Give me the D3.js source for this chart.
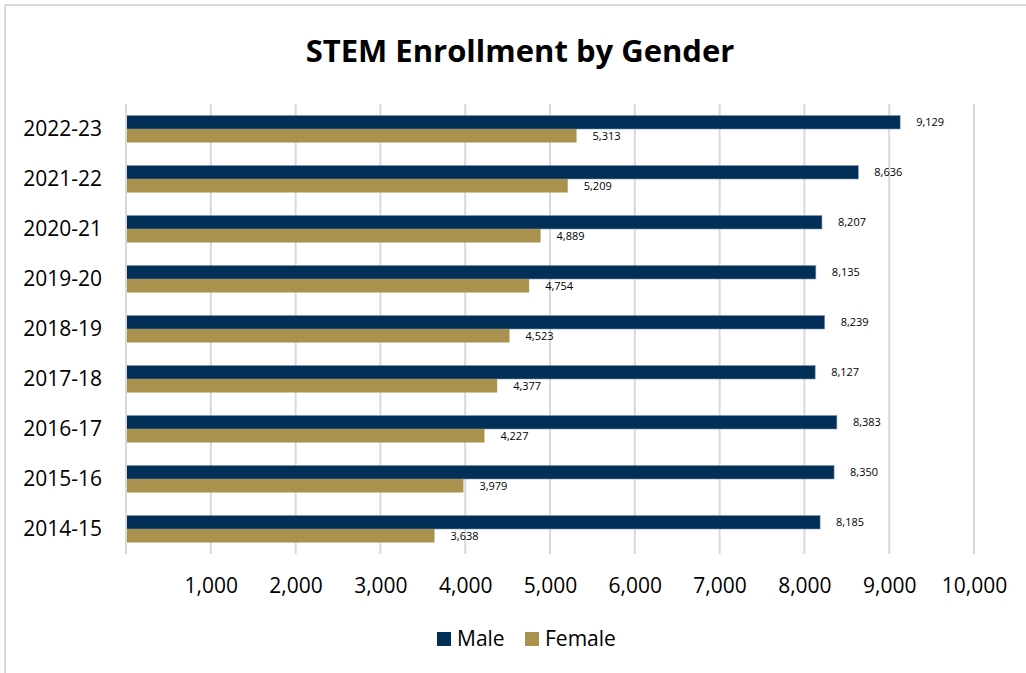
<!DOCTYPE html>
<html>
<head>
<meta charset="utf-8">
<script src="https://cdn.jsdelivr.net/npm/d3@7"></script>
<style>
  html, body { margin: 0; padding: 0; background: #fff; }
  svg { display: block; }
  text { font-family: "Open Sans", "Noto Sans", sans-serif; }
</style>
</head>
<body>
<svg id="chart" width="1026" height="673"></svg>
<script>
// STEM enrollment by academic year, split by gender
const years = ["2022-23", "2021-22", "2020-21", "2019-20", "2018-19", "2017-18", "2016-17", "2015-16", "2014-15"];
const male = [9129, 8636, 8207, 8135, 8239, 8127, 8383, 8350, 8185];
const female = [5313, 5209, 4889, 4754, 4523, 4377, 4227, 3979, 3638];
const seriesNames = ["Male", "Female"];
const seriesColors = ["#022f57", "#a8924e"];
const xTicks = [1000, 2000, 3000, 4000, 5000, 6000, 7000, 8000, 9000, 10000];

const svg = d3.select("#chart");
const W = 1026, H = 673;
const fmt = d3.format(",");

// chart frame (top and left edges visible)
svg.append("line").attr("x1", 5).attr("x2", W).attr("y1", 5).attr("y2", 5)
  .attr("stroke", "#d9d9d9").attr("stroke-width", 2);
svg.append("line").attr("x1", 5).attr("x2", 5).attr("y1", 5).attr("y2", H)
  .attr("stroke", "#d9d9d9").attr("stroke-width", 2);

// title
svg.append("text")
  .attr("x", 520).attr("y", 62)
  .attr("text-anchor", "middle")
  .attr("font-size", 31).attr("font-weight", 700)
  .attr("fill", "#000")
  .text("STEM Enrollment by Gender");

const plot = { left: 126, right: 974, top: 104, bottom: 554 };

const x = d3.scaleLinear().domain([0, 10000]).range([plot.left, plot.right]);
const y = d3.scaleBand().domain(years).range([plot.top, plot.bottom])
  .paddingInner(0.46).paddingOuter(0.23);
const ySub = d3.scaleBand().domain(seriesNames).range([0, y.bandwidth()]);

// vertical gridlines
svg.append("g").selectAll("line").data(xTicks).join("line")
  .attr("x1", d => x(d)).attr("x2", d => x(d))
  .attr("y1", plot.top).attr("y2", plot.bottom)
  .attr("stroke", "#d9d9d9").attr("stroke-width", 2);

// bottom tick labels
const xAxis = d3.axisBottom(x).tickValues(xTicks).tickFormat(fmt).tickSize(0).tickPadding(0);
const gx = svg.append("g").attr("transform", `translate(0,${plot.bottom})`).call(xAxis);
gx.select(".domain").remove();
gx.selectAll("text")
  .attr("font-family", "'Open Sans', sans-serif")
  .attr("font-size", 21).attr("fill", "#000")
  .attr("dy", 0).attr("y", 39);

// category labels
const yAxis = d3.axisLeft(y).tickSize(0).tickPadding(24);
const gy = svg.append("g").attr("transform", `translate(${plot.left},0)`).call(yAxis);
gy.select(".domain").remove();
gy.selectAll("text")
  .attr("font-family", "'Open Sans', sans-serif")
  .attr("font-size", 21).attr("fill", "#000");

// bars
const rows = years.map((yr, i) => ({ year: yr, values: [male[i], female[i]] }));
const groups = svg.append("g").selectAll("g").data(rows).join("g")
  .attr("transform", d => `translate(0,${y(d.year)})`);

groups.selectAll("rect").data(d => d.values.map((v, j) => ({ key: seriesNames[j], value: v, j })))
  .join("rect")
  .attr("x", x(0))
  .attr("y", d => ySub(d.key))
  .attr("width", d => x(d.value) - x(0))
  .attr("height", ySub.bandwidth())
  .attr("fill", d => seriesColors[d.j])
  .attr("stroke", d => d.j === 0 ? "#7d95ad" : "none")
  .attr("stroke-width", 0.6);

// value labels
groups.selectAll("text").data(d => d.values.map((v, j) => ({ key: seriesNames[j], value: v })))
  .join("text")
  .attr("x", d => x(d.value) + 16)
  .attr("y", d => ySub(d.key) + ySub.bandwidth() / 2)
  .attr("dy", "0.35em")
  .attr("font-size", 11).attr("fill", "#000")
  .text(d => fmt(d.value));

// y axis line (value zero)
svg.append("line").attr("x1", x(0)).attr("x2", x(0))
  .attr("y1", plot.top).attr("y2", plot.bottom)
  .attr("stroke", "#d9d9d9").attr("stroke-width", 2);

// legend
const legendX = [437, 525];
const legend = svg.append("g").selectAll("g").data(seriesNames).join("g")
  .attr("transform", (d, i) => `translate(${legendX[i]},632)`);
legend.append("rect").attr("width", 14).attr("height", 14)
  .attr("fill", (d, i) => seriesColors[i]);
legend.append("text").attr("x", 20).attr("y", 14)
  .attr("font-size", 21).attr("fill", "#000")
  .text(d => d);
</script>
</body>
</html>
